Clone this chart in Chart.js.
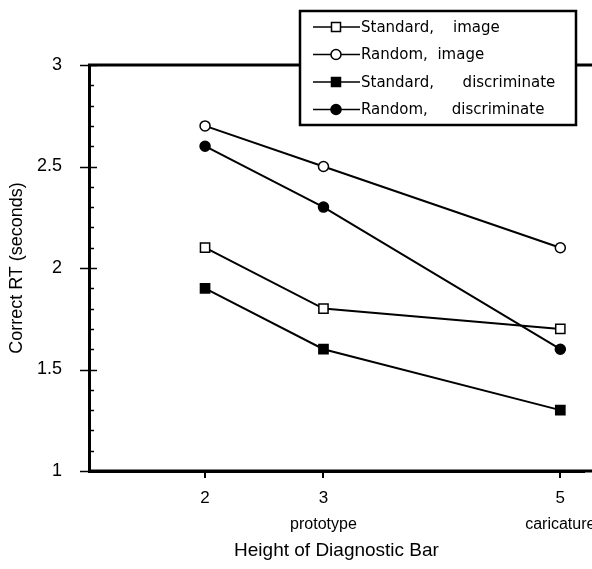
<!DOCTYPE html>
<html>
<head>
<meta charset="utf-8">
<script src="https://cdn.jsdelivr.net/npm/chart.js@4.4.0/dist/chart.umd.min.js"></script>
<style>
  html, body { margin: 0; padding: 0; background: #fff; }
  #wrap { width: 592px; height: 569px; }
</style>
</head>
<body>
<div id="wrap"><canvas id="rtChart"></canvas></div>
<script>
// bar heights on x, RT in seconds on y
const barHeights = [2, 3, 5];
const barSubLabels = ['', 'prototype', 'caricature'];
const seriesNames = [
  'Standard,    image',
  'Random,  image',
  'Standard,      discriminate',
  'Random,     discriminate',
];
const standardImage = [2.1, 1.8, 1.7];
const randomImage = [2.7, 2.5, 2.1];
const standardDiscriminate = [1.9, 1.6, 1.3];
const randomDiscriminate = [2.6, 2.3, 1.6];
const yMajorTicks = [1, 1.5, 2, 2.5, 3];

const FONT = '"Liberation Sans", Arial, sans-serif';
const LEGEND_FONT = '"DejaVu Sans", sans-serif';

const markers = [
  { style: 'rect', fill: '#fff' },
  { style: 'circle', fill: '#fff' },
  { style: 'rect', fill: '#000' },
  { style: 'circle', fill: '#000' },
];

function toPoints(vals) {
  return vals.map((v, i) => ({ x: barHeights[i], y: v }));
}

const seriesValues = [standardImage, randomImage, standardDiscriminate, randomDiscriminate];

const datasets = seriesValues.map((vals, i) => ({
  label: seriesNames[i],
  data: toPoints(vals),
  borderColor: '#000',
  borderWidth: 2,
  pointStyle: markers[i].style,
  pointRadius: markers[i].style === 'rect' ? 6.5 : 5,
  pointBackgroundColor: markers[i].fill,
  pointBorderColor: '#000',
  pointBorderWidth: 1.5,
  tension: 0,
  fill: false,
}));

function drawMarker(ctx, style, fill, x, y) {
  ctx.beginPath();
  if (style === 'rect') {
    ctx.rect(x - 4.5, y - 4.5, 9, 9);
  } else {
    ctx.arc(x, y, 5, 0, Math.PI * 2);
  }
  ctx.fillStyle = fill;
  ctx.fill();
  ctx.lineWidth = 1.5;
  ctx.strokeStyle = '#000';
  ctx.stroke();
}

// frame lines, y-axis tick marks, x sublabels, legend box
const decorPlugin = {
  id: 'decor',
  beforeDatasetsDraw(chart) {
    const { ctx, chartArea } = chart;
    const ys = chart.scales.y;
    ctx.save();
    ctx.strokeStyle = '#000';
    // top frame line and bottom axis running off the right edge
    ctx.lineWidth = 3;
    ctx.beginPath();
    ctx.moveTo(chartArea.left - 1, chartArea.top);
    ctx.lineTo(chart.width, chartArea.top);
    ctx.moveTo(chartArea.left, chartArea.bottom);
    ctx.lineTo(chart.width, chartArea.bottom);
    ctx.stroke();
    // y ticks: majors cross the axis, minors point inward
    ctx.lineWidth = 1.5;
    for (let i = 0; i <= 20; i++) {
      const py = Math.round(ys.getPixelForValue(1 + i * 0.1)) + 0.5;
      const major = i % 5 === 0;
      ctx.beginPath();
      ctx.moveTo(chartArea.left - (major ? 9 : 0), py);
      ctx.lineTo(chartArea.left + (major ? 8 : 5), py);
      ctx.stroke();
    }
    ctx.restore();
  },
  afterDraw(chart) {
    const { ctx } = chart;
    const xs = chart.scales.x;
    ctx.save();
    // sublabels under x ticks
    ctx.fillStyle = '#000';
    ctx.font = '16px ' + FONT;
    ctx.textAlign = 'center';
    ctx.textBaseline = 'middle';
    barHeights.forEach((h, i) => {
      if (barSubLabels[i]) ctx.fillText(barSubLabels[i], xs.getPixelForValue(h), 525);
    });

    // legend
    const bx = 300, by = 11, bw = 276, bh = 114;
    ctx.fillStyle = '#fff';
    ctx.fillRect(bx, by, bw, bh);
    ctx.strokeStyle = '#000';
    ctx.lineWidth = 2.5;
    ctx.strokeRect(bx, by, bw, bh);
    ctx.font = '15px ' + LEGEND_FONT;
    ctx.textAlign = 'left';
    chart.data.datasets.forEach((ds, i) => {
      const ry = 27 + i * 27.5;
      ctx.lineWidth = 1.5;
      ctx.beginPath();
      ctx.moveTo(313, ry);
      ctx.lineTo(360, ry);
      ctx.stroke();
      drawMarker(ctx, markers[i].style, markers[i].fill, 336, ry);
      ctx.fillStyle = '#000';
      ctx.fillText(ds.label, 361, ry + 1);
    });
    ctx.restore();
  },
};

new Chart(document.getElementById('rtChart'), {
  type: 'line',
  data: { datasets },
  plugins: [decorPlugin],
  options: {
    responsive: true,
    maintainAspectRatio: false,
    animation: false,
    layout: { padding: { top: 65, right: 0, left: 0, bottom: 0 } },
    plugins: {
      legend: { display: false },
      tooltip: { enabled: false },
    },
    scales: {
      x: {
        type: 'linear',
        min: 1.02,
        max: 5.2,
        afterBuildTicks(scale) {
          scale.ticks = barHeights.map(v => ({ value: v }));
        },
        afterFit(scale) { scale.height = 98; },
        grid: {
          drawOnChartArea: false,
          drawTicks: true,
          tickLength: 7,
          color: '#000',
          lineWidth: 2,
        },
        border: { color: '#000', width: 3 },
        ticks: {
          color: '#000',
          font: { family: FONT, size: 17 },
          padding: 10,
          autoSkip: false,
          maxRotation: 0,
          callback: v => String(v),
        },
        title: {
          display: true,
          text: 'Height of Diagnostic Bar',
          color: '#000',
          font: { family: FONT, size: 19 },
          padding: { top: 0, bottom: 7 },
        },
      },
      y: {
        type: 'linear',
        min: 1,
        max: 3,
        afterBuildTicks(scale) {
          scale.ticks = yMajorTicks.map(v => ({ value: v }));
        },
        afterFit(scale) { scale.width = 89; },
        grid: { display: false },
        border: { color: '#000', width: 3 },
        ticks: {
          color: '#000',
          font: { family: FONT, size: 18 },
          padding: 19,
          autoSkip: false,
          callback: v => String(v),
        },
        title: {
          display: true,
          text: 'Correct RT (seconds)',
          color: '#000',
          font: { family: FONT, size: 18 },
          padding: { top: 6, bottom: 0 },
        },
      },
    },
  },
});
</script>
</body>
</html>
